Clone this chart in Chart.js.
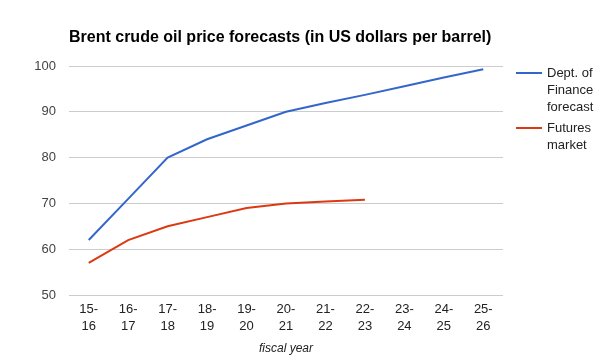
<!DOCTYPE html>
<html>
<head>
<meta charset="utf-8">
<script src="https://cdn.jsdelivr.net/npm/chart.js@4"></script>
<style>
  html, body { margin: 0; padding: 0; background: #fff; }
  #wrap { width: 615px; height: 363px; position: relative; }
</style>
</head>
<body>
<div id="wrap"><canvas id="c" width="615" height="363"></canvas></div>
<script>
const titleText = 'Brent crude oil price forecasts (in US dollars per barrel)';
const xAxisTitle = 'fiscal year';
const categories = [
  ['15-', '16'], ['16-', '17'], ['17-', '18'], ['18-', '19'], ['19-', '20'],
  ['20-', '21'], ['21-', '22'], ['22-', '23'], ['23-', '24'], ['24-', '25'], ['25-', '26']
];
const financeForecast = [62, 71, 80, 84, 87, 90, 91.9, 93.7, 95.6, 97.5, 99.3];
const futuresMarket = [57, 62, 65, 67, 69, 70, 70.4, 70.8, null, null, null];
const financeLabel = ['Dept. of', 'Finance', 'forecast'];
const futuresLabel = ['Futures', 'market'];
const yMin = 50, yMax = 100, yStep = 10;

const FONT = 'Arial, "Liberation Sans", sans-serif';

const legendPlugin = {
  id: 'sideLegend',
  afterDraw(chart) {
    const ctx = chart.ctx;
    const area = chart.chartArea;
    const x0 = area.right + 13;
    const lineLen = 26;
    const textX = x0 + lineLen + 5;
    const lineH = 17;
    let y = area.top + 7;
    ctx.save();
    ctx.font = '13px ' + FONT;
    ctx.textBaseline = 'middle';
    ctx.textAlign = 'left';
    chart.data.datasets.forEach(ds => {
      const lines = ds.label;
      ctx.strokeStyle = ds.borderColor;
      ctx.lineWidth = 2;
      ctx.beginPath();
      ctx.moveTo(x0, y);
      ctx.lineTo(x0 + lineLen, y);
      ctx.stroke();
      ctx.fillStyle = '#222';
      lines.forEach((t, i) => ctx.fillText(t, textX, y + i * lineH));
      y += lines.length * lineH + 4;
    });
    ctx.restore();
  }
};

new Chart(document.getElementById('c'), {
  type: 'line',
  data: {
    labels: categories,
    datasets: [
      { label: financeLabel, data: financeForecast, borderColor: '#3366cc', backgroundColor: '#3366cc',
        borderWidth: 2, pointRadius: 0, pointHoverRadius: 0, tension: 0, fill: false },
      { label: futuresLabel, data: futuresMarket, borderColor: '#dc3912', backgroundColor: '#dc3912',
        borderWidth: 2, pointRadius: 0, pointHoverRadius: 0, tension: 0, fill: false, spanGaps: false }
    ]
  },
  options: {
    responsive: false,
    animation: false,
    devicePixelRatio: 1,
    layout: { padding: { left: 0, right: 112, top: 0, bottom: 0 } },
    plugins: {
      legend: { display: false },
      tooltip: { enabled: false },
      title: {
        display: true, text: titleText, align: 'start', fullSize: false,
        color: '#000', font: { family: FONT, size: 16, weight: 'bold', lineHeight: 1.2 },
        padding: { top: 28.4, bottom: 18.4 }
      }
    },
    scales: {
      x: {
        offset: true,
        grid: { display: false, drawTicks: false },
        border: { display: false },
        ticks: { color: '#222', font: { family: FONT, size: 13, lineHeight: 1.38 }, padding: 5, maxRotation: 0, autoSkip: false },
        title: { display: true, text: xAxisTitle, color: '#222', font: { family: FONT, size: 12, style: 'italic', lineHeight: 1.2 }, padding: { top: 0, bottom: 7 } },
        afterFit(scale) { scale.height = 68; }
      },
      y: {
        min: yMin, max: yMax,
        grid: { color: '#cccccc', drawTicks: false, lineWidth: 1 },
        border: { display: false },
        ticks: { stepSize: yStep, color: '#444', font: { family: FONT, size: 13 }, padding: 13 },
        afterFit(scale) { scale.width = 69; }
      }
    }
  },
  plugins: [legendPlugin]
});
</script>
</body>
</html>
